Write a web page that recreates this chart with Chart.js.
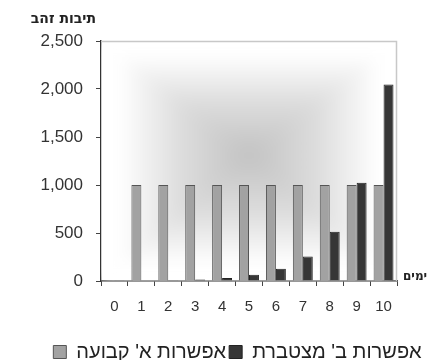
<!DOCTYPE html>
<html>
<head>
<meta charset="utf-8">
<script src="https://cdn.jsdelivr.net/npm/chart.js@4.4.0/dist/chart.umd.min.js"></script>
<style>
  html, body { margin: 0; padding: 0; background: #fff; }
  #wrap { width: 439px; height: 360px; position: relative; }
</style>
</head>
<body>
<div id="wrap"><canvas id="c" width="439" height="360"></canvas></div>
<script>
// ימים 0..10
const days = ['0', '1', '2', '3', '4', '5', '6', '7', '8', '9', '10'];
// אפשרות א' - קבועה
const optionA = [0, 1000, 1000, 1000, 1000, 1000, 1000, 1000, 1000, 1000, 1000];
// אפשרות ב' - מצטברת
const optionB = [2, 4, 8, 16, 32, 64, 128, 256, 512, 1024, 2048];
const yTicks = [0, 500, 1000, 1500, 2000, 2500];

const FONT = "'Liberation Sans', Arial, sans-serif";
const HEB = "'DejaVu Sans', sans-serif";

// gradient "from center": four triangles drawn offscreen, then blurred
const plotBg = {
  id: 'plotBg',
  beforeDatasetsDraw(chart) {
    const { ctx, chartArea: a } = chart;
    const w = Math.round(a.right - a.left), h = Math.round(a.bottom - a.top);
    const off = document.createElement('canvas');
    off.width = w; off.height = h;
    const o = off.getContext('2d');
    o.fillStyle = '#fff';
    o.fillRect(0, 0, w, h);
    const cx = w / 2, cy = h / 2 - 6;
    const tris = [
      [0, 0, w, 0, cx, 0],
      [w, 0, w, h, w, cy],
      [w, h, 0, h, cx, h],
      [0, h, 0, 0, 0, cy]
    ];
    tris.forEach(t => {
      const g = o.createLinearGradient(cx, cy, t[4], t[5]);
      g.addColorStop(0, '#c2c2c2');
      g.addColorStop(0.45, '#dcdcdc');
      g.addColorStop(0.88, '#ffffff');
      g.addColorStop(1, '#ffffff');
      o.beginPath();
      o.moveTo(cx, cy);
      o.lineTo(t[0], t[1]);
      o.lineTo(t[2], t[3]);
      o.closePath();
      o.fillStyle = g;
      o.fill();
    });
    ctx.save();
    ctx.beginPath();
    ctx.rect(a.left, a.top, w, h);
    ctx.clip();
    ctx.filter = 'blur(7px)';
    ctx.drawImage(off, a.left, a.top);
    ctx.filter = 'none';
    ctx.restore();

    ctx.save();
    ctx.strokeStyle = '#c8c8c8';
    ctx.lineWidth = 1.5;
    ctx.beginPath();
    ctx.moveTo(a.left, a.top + 0.5);
    ctx.lineTo(a.right - 0.5, a.top + 0.5);
    ctx.lineTo(a.right - 0.5, a.bottom);
    ctx.stroke();
    ctx.restore();
  },
  afterDraw(chart) {
    const { ctx, chartArea: a } = chart;
    ctx.save();
    ctx.fillStyle = '#222';
    ctx.textBaseline = 'middle';
    ctx.textAlign = 'right';
    ctx.font = 'bold 14px ' + HEB;
    ctx.fillText('תיבות זהב', 96, 19);
    ctx.textAlign = 'left';
    ctx.font = 'bold 12px ' + HEB;
    ctx.fillText('ימים', a.right + 6, a.bottom - 4);
    ctx.restore();
  }
};

new Chart(document.getElementById('c'), {
  type: 'bar',
  data: {
    labels: days,
    datasets: [
      { label: "אפשרות א' קבועה", data: optionA, backgroundColor: '#a2a2a2', borderColor: '#555', borderWidth: 1 },
      { label: "אפשרות ב' מצטברת", data: optionB, backgroundColor: '#363636', borderColor: '#222', borderWidth: 1 }
    ]
  },
  options: {
    responsive: false,
    animation: false,
    layout: { padding: { top: 41, right: 0, left: 36, bottom: -12 } },
    datasets: { bar: { categoryPercentage: 0.74, barPercentage: 1 } },
    plugins: {
      tooltip: { enabled: false },
      legend: {
        position: 'bottom',
        labels: {
          color: '#222',
          font: { family: FONT, size: 20, lineHeight: 1 },
          boxWidth: 13,
          boxHeight: 13,
          padding: 3
        }
      }
    },
    scales: {
      x: {
        grid: { display: true, drawOnChartArea: false, tickLength: 5, color: '#444', offset: true },
        border: { color: '#333', width: 1.5 },
        ticks: { color: '#333', font: { family: FONT, size: 15 }, padding: 12, maxRotation: 0 },
        afterFit(s) { s.height = 58; }
      },
      y: {
        min: 0, max: 2500,
        afterBuildTicks(s) { s.ticks = yTicks.map(v => ({ value: v })); },
        grid: { display: true, drawOnChartArea: false, tickLength: 5, color: '#444' },
        border: { color: '#333', width: 1.5 },
        ticks: { color: '#333', font: { family: FONT, size: 17 }, padding: 13 },
        afterFit(s) { s.width = 65; }
      },
      yRight: {
        position: 'right',
        grid: { display: false },
        border: { display: false },
        ticks: { display: false },
        afterFit(s) { s.width = 42; }
      }
    }
  },
  plugins: [plotBg]
});
</script>
</body>
</html>
